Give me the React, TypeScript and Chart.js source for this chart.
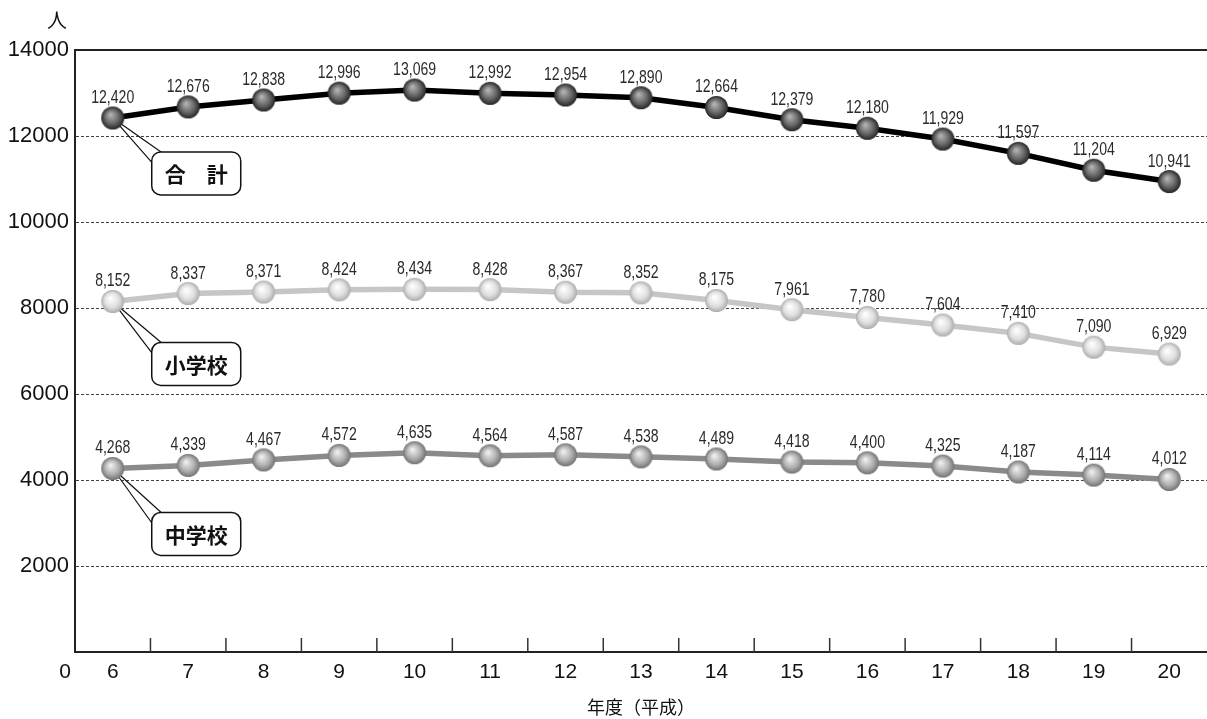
import { useEffect, useRef } from "react";
import { Chart, registerables } from "chart.js";

Chart.register(...registerables);

const categories = ["6", "7", "8", "9", "10", "11", "12", "13", "14", "15", "16", "17", "18", "19", "20"];
const totalValues = [12420, 12676, 12838, 12996, 13069, 12992, 12954, 12890, 12664, 12379, 12180, 11929, 11597, 11204, 10941];
const elementaryValues = [8152, 8337, 8371, 8424, 8434, 8428, 8367, 8352, 8175, 7961, 7780, 7604, 7410, 7090, 6929];
const juniorValues = [4268, 4339, 4467, 4572, 4635, 4564, 4587, 4538, 4489, 4418, 4400, 4325, 4187, 4114, 4012];
const seriesNames = ["合　計", "小学校", "中学校"];
const yMin = 0;
const yMax = 14000;
const yStep = 2000;
const xAxisTitle = "年度（平成）";
const yAxisUnit = "人";
const zeroLabel = "0";

// callout style (offset from each series' first point, in pixels)
const calloutStyle = [
  { dx: 39, dy: 34 },
  { dx: 39, dy: 41 },
  { dx: 39, dy: 44 },
];

function makeSphere(light: string, base: string, dark: string, r = 11.5) {
  const c = document.createElement("canvas");
  const s = Math.ceil(r * 2 + 2);
  c.width = s;
  c.height = s;
  const g = c.getContext("2d")!;
  const cx = s / 2;
  const cy = s / 2;
  const grad = g.createRadialGradient(cx - r * 0.2, cy - r * 0.3, r * 0.05, cx, cy, r);
  grad.addColorStop(0, light);
  grad.addColorStop(0.6, base);
  grad.addColorStop(1, dark);
  g.fillStyle = grad;
  g.beginPath();
  g.arc(cx, cy, r, 0, Math.PI * 2);
  g.fill();
  return c;
}

function roundRect(ctx: CanvasRenderingContext2D, x: number, y: number, w: number, h: number, r: number) {
  ctx.beginPath();
  ctx.moveTo(x + r, y);
  ctx.lineTo(x + w - r, y);
  ctx.arcTo(x + w, y, x + w, y + r, r);
  ctx.lineTo(x + w, y + h - r);
  ctx.arcTo(x + w, y + h, x + w - r, y + h, r);
  ctx.lineTo(x + r, y + h);
  ctx.arcTo(x, y + h, x, y + h - r, r);
  ctx.lineTo(x, y + r);
  ctx.arcTo(x, y, x + r, y, r);
  ctx.closePath();
}

const decorPlugin = {
  id: "decor",
  beforeDatasetsDraw(chart: any) {
    const { ctx, chartArea, scales } = chart;
    ctx.save();
    ctx.strokeStyle = "#222";
    ctx.lineWidth = 2;
    ctx.beginPath();
    ctx.moveTo(chartArea.left, chartArea.top);
    ctx.lineTo(chartArea.right, chartArea.top);
    ctx.stroke();
    const xs = scales.x;
    ctx.strokeStyle = "#333";
    ctx.lineWidth = 1.5;
    for (let i = 0; i < categories.length - 1; i++) {
      const x = (xs.getPixelForValue(i) + xs.getPixelForValue(i + 1)) / 2;
      ctx.beginPath();
      ctx.moveTo(x, chartArea.bottom);
      ctx.lineTo(x, chartArea.bottom - 14);
      ctx.stroke();
    }
    chart.data.datasets.forEach((ds: any, di: number) => {
      const meta = chart.getDatasetMeta(di);
      const p = meta.data[0];
      if (!p) return;
      const st = calloutStyle[di];
      const bx = p.x + st.dx;
      const by = p.y + st.dy;
      const bw = 89;
      const bh = 43;
      ctx.strokeStyle = "#111";
      ctx.lineWidth = 1.2;
      ctx.beginPath();
      ctx.moveTo(p.x, p.y);
      ctx.lineTo(bx + 0.5, by + 11);
      ctx.moveTo(p.x, p.y);
      ctx.lineTo(bx + 10, by + 0.5);
      ctx.stroke();
      roundRect(ctx, bx, by, bw, bh, 9);
      ctx.fillStyle = "#fff";
      ctx.fill();
      ctx.lineWidth = 1.5;
      ctx.stroke();
      ctx.fillStyle = "#111";
      ctx.font = "bold 21px 'Noto Sans CJK JP', sans-serif";
      ctx.textAlign = "center";
      ctx.textBaseline = "middle";
      ctx.fillText(ds.label, bx + bw / 2, by + bh / 2 + 1);
    });
    ctx.restore();
  },
  afterDatasetsDraw(chart: any) {
    const { ctx } = chart;
    ctx.save();
    ctx.fillStyle = "#2a2a2a";
    ctx.font = "19px 'Liberation Sans', sans-serif";
    ctx.textAlign = "center";
    ctx.textBaseline = "alphabetic";
    chart.data.datasets.forEach((ds: any, di: number) => {
      const meta = chart.getDatasetMeta(di);
      meta.data.forEach((pt: any, i: number) => {
        const text = Number(ds.data[i]).toLocaleString("en-US");
        ctx.save();
        ctx.translate(pt.x, pt.y - 15);
        ctx.scale(0.74, 1);
        ctx.fillText(text, 0, 0);
        ctx.restore();
      });
    });
    ctx.restore();
  },
  afterDraw(chart: any) {
    const { ctx, chartArea } = chart;
    ctx.save();
    ctx.fillStyle = "#111";
    ctx.textAlign = "center";
    ctx.textBaseline = "middle";
    ctx.font = "21px 'Liberation Sans', sans-serif";
    ctx.fillText(zeroLabel, chartArea.left - 10, chartArea.bottom + 20);
    ctx.font = "20px 'Noto Sans CJK JP', sans-serif";
    ctx.fillText(yAxisUnit, chartArea.left - 18, 20);
    ctx.restore();
  },
};

export default function App() {
  const ref = useRef<HTMLCanvasElement | null>(null);

  useEffect(() => {
    document.body.style.margin = "0";
    document.documentElement.style.overflow = "hidden";
    document.body.style.overflow = "hidden";
    const canvas = ref.current;
    if (!canvas) return;
    const spheres = [
      makeSphere("#b4b4b4", "#666666", "#262626"),
      makeSphere("#ffffff", "#e0e0e0", "#adadad"),
      makeSphere("#f0f0f0", "#b0b0b0", "#737373"),
    ];
    const lineColors = ["#000000", "#c6c6c6", "#8a8a8a"];
    const values = [totalValues, elementaryValues, juniorValues];
    const chart = new Chart(canvas, {
      type: "line",
      data: {
        labels: categories,
        datasets: values.map((v, i) => ({
          label: seriesNames[i],
          data: v,
          borderColor: lineColors[i],
          borderWidth: 5.5,
          tension: 0,
          pointStyle: spheres[i] as any,
          pointRadius: 11,
          pointHoverRadius: 11,
          fill: false,
          clip: false as any,
        })),
      },
      options: {
        animation: false,
        responsive: false,
        maintainAspectRatio: false,
        events: [],
        layout: { autoPadding: false, padding: { top: 50, right: 0, bottom: 0, left: 0 } },
        plugins: {
          legend: { display: false },
          tooltip: { enabled: false },
        },
        scales: {
          x: {
            type: "category",
            offset: true,
            grid: { display: false, drawTicks: false },
            border: { display: true, color: "#222", width: 2 },
            ticks: {
              color: "#111",
              font: { family: "'Liberation Sans', sans-serif", size: 21 },
              padding: 8,
              maxRotation: 0,
              autoSkip: false,
            },
            title: {
              display: true,
              text: xAxisTitle,
              color: "#111",
              font: { family: "'Noto Sans CJK JP', sans-serif", size: 18 },
              padding: { top: 0, bottom: 1 },
            },
            afterFit(scale: any) {
              scale.height = 67;
              scale.paddingLeft = 0;
              scale.paddingRight = 0;
            },
          },
          y: {
            min: yMin,
            max: yMax,
            ticks: {
              stepSize: yStep,
              color: "#111",
              font: { family: "'Liberation Sans', sans-serif", size: 22 },
              padding: 6,
              callback: (v: any) => (Number(v) === 0 ? "" : String(v)),
            },
            grid: {
              drawTicks: false,
              lineWidth: 1,
              color: (c: any) =>
                c.tick && (c.tick.value === yMin || c.tick.value === yMax) ? "rgba(0,0,0,0)" : "#444",
            },
            border: { display: true, color: "#222", width: 2, dash: [3, 2] },
            afterFit(scale: any) {
              scale.width = 75;
              scale.paddingLeft = 0;
              scale.paddingRight = 0;
            },
          },
        },
      },
      plugins: [decorPlugin],
    });
    return () => chart.destroy();
  }, []);

  return (
    <div style={{ position: "fixed", left: 0, top: 0, width: 1207, height: 719, overflow: "hidden" }}>
      <canvas ref={ref} width={1207} height={719} style={{ display: "block", width: 1207, height: 719 }} />
    </div>
  );
}
